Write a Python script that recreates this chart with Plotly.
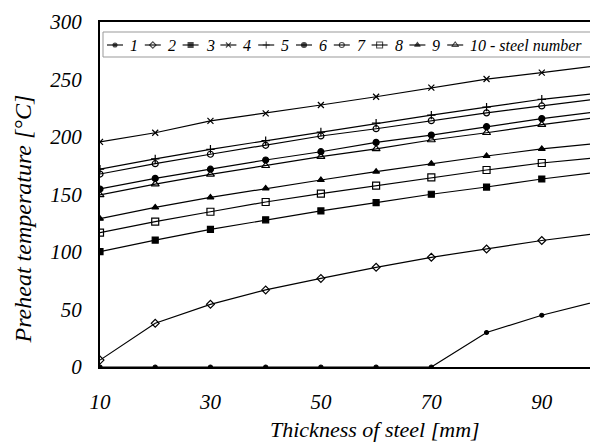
import plotly.graph_objects as go

thickness = [10, 20, 30, 40, 50, 60, 70, 80, 90, 100]

s1 = [0, 0, 0, 0, 0, 0, 0, 30, 45, 57]
s2 = [6, 38, 54.5, 67, 77, 86.7, 95.4, 102.6, 110, 116]
s3 = [100.3, 110.4, 119.7, 128, 135.7, 142.9, 150.2, 156.5, 163.5, 169.3]
s4 = [195.7, 203.7, 214, 220.6, 227.8, 235, 243, 250.4, 256, 262]
s5 = [172, 181, 189.3, 196.8, 204.3, 212, 219, 226, 232.8, 238]
s6 = [154.8, 164, 172, 180, 187.2, 195.3, 201.7, 209, 216, 222]
s7 = [167.8, 176.8, 185, 192.8, 200.9, 207.2, 214.2, 221, 227, 233]
s8 = [116.8, 126.4, 135, 143.5, 150.7, 157.7, 164.9, 171.3, 177.4, 182]
s9 = [129, 138.8, 147.5, 155.3, 162.6, 169.9, 176.8, 183.5, 189.6, 194.5]
s10 = [149.6, 159.1, 167.5, 175, 182.9, 189.6, 197.4, 203.7, 210.7, 217]

series = [s1, s2, s3, s4, s5, s6, s7, s8, s9, s10]
names = ["1", "2", "3", "4", "5", "6", "7", "8", "9", "10 - steel number"]
symbols = ["circle", "diamond-open", "square", "x-thin-open", "cross-thin-open",
           "circle", "circle-open", "square-open", "triangle-up", "triangle-up-open"]
sizes = [4, 6, 6, 6, 6, 6, 6, 7, 6, 7]

# page body has an 8px margin: figure is drawn offset by 8px
OFF = 8
W, H = 598 - OFF, 444 - OFF
# target plot area in screen pixels: x 100..597, y 22..367
L, T = 100 - OFF, 22 - OFF
R = W - (597 - OFF)
B = H - (367 - OFF)
PW, PH = W - L - R, H - T - B

def px(xs):  # screen x -> paper fraction
    return (xs - OFF - L) / PW

def py(ys):  # screen y -> paper fraction
    return 1 - (ys - OFF - T) / PH

font_fam = "Liberation Serif, Times New Roman, serif"

fig = go.Figure()
for ys, nm, sym, sz in zip(series, names, symbols, sizes):
    fig.add_trace(go.Scatter(
        x=thickness, y=ys, name=nm, mode="lines+markers",
        line=dict(color="black", width=1.2),
        marker=dict(symbol=sym, size=sz, color="black",
                    line=dict(color="black", width=1.2)),
        showlegend=False,
    ))

# custom single-row legend on an overlay axis in paper units
leg_y = py(45)
annotations = []
for i, (nm, sym, sz) in enumerate(zip(names, symbols, sizes)):
    cx = 115 + 37.8 * i
    fig.add_trace(go.Scatter(
        x=[px(cx - 8), px(cx), px(cx + 8)], y=[leg_y] * 3,
        xaxis="x2", yaxis="y2", mode="lines+markers",
        line=dict(color="black", width=1.1),
        marker=dict(symbol=sym, size=[0, max(sz - 1, 4), 0], color="black",
                    line=dict(color="black", width=1.1)),
        showlegend=False, hoverinfo="skip",
    ))
    annotations.append(dict(
        x=px(cx + 13), y=leg_y, xref="paper", yref="paper",
        text=nm, showarrow=False, xanchor="left", yanchor="middle",
        font=dict(family=font_fam, size=16, style="italic", color="black"),
    ))

annotations.append(dict(
    x=px(375), y=py(429), xref="paper", yref="paper",
    text="Thickness of steel [mm]", showarrow=False, borderpad=0,
    xanchor="center", yanchor="middle",
    font=dict(family=font_fam, size=22, style="italic", color="black"),
))
annotations.append(dict(
    x=px(22), y=py(219.5), xref="paper", yref="paper",
    text="Preheat temperature [°C]", showarrow=False, textangle=-90,
    xanchor="center", yanchor="middle", borderpad=0,
    font=dict(family=font_fam, size=24, style="italic", color="black"),
))

fig.update_layout(
    width=W, height=H,
    margin=dict(l=L, r=R, t=T, b=B),
    paper_bgcolor="white", plot_bgcolor="white",
    font=dict(family=font_fam, color="black", size=21),
    showlegend=False,
    annotations=annotations,
    shapes=[dict(type="rect", xref="paper", yref="paper",
                 x0=px(103), x1=px(592), y0=py(57), y1=py(32),
                 line=dict(color="#999", width=1), fillcolor="rgba(0,0,0,0)",
                 layer="below")],
    xaxis=dict(range=[10, 100], tickvals=[10, 30, 50, 70, 90],
               showgrid=False, zeroline=False, showline=True, mirror=True,
               linecolor="black", linewidth=2, ticks="", automargin=False,
               tickfont=dict(family=font_fam, size=21, style="italic"),
               ticklabelstandoff=15),
    yaxis=dict(range=[0, 300], tickvals=[0, 50, 100, 150, 200, 250, 300],
               showgrid=False, zeroline=False, showline=True, mirror=True,
               linecolor="black", linewidth=2, ticks="", automargin=False,
               tickfont=dict(family=font_fam, size=21, style="italic"),
               ticklabelstandoff=12),
    xaxis2=dict(range=[0, 1], overlaying="x", anchor="y2", visible=False,
                fixedrange=True),
    yaxis2=dict(range=[0, 1], overlaying="y", anchor="x2", visible=False,
                fixedrange=True),
)
fig.write_html("out.html")
